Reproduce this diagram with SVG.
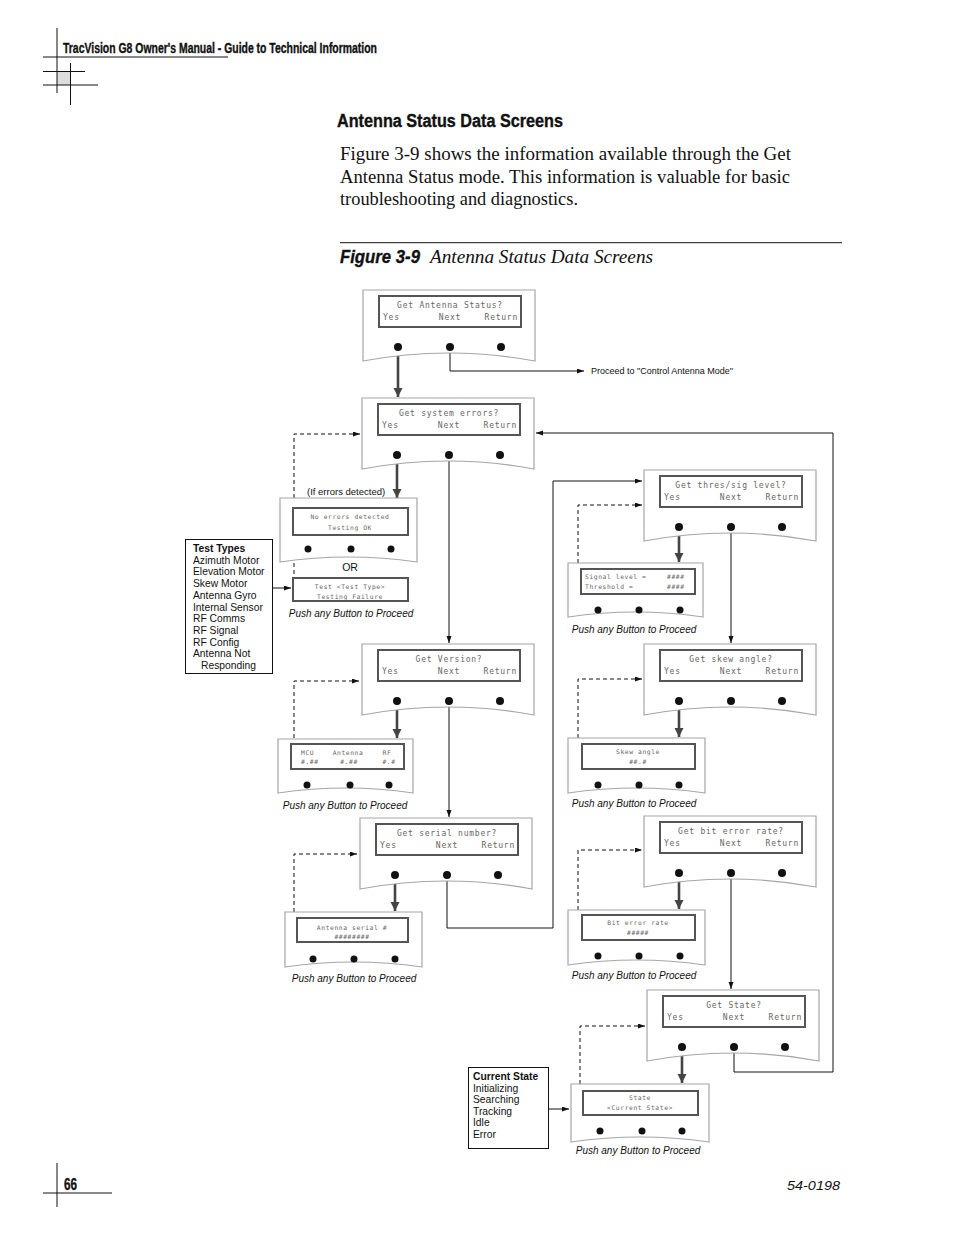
<svg xmlns="http://www.w3.org/2000/svg" width="954" height="1235" viewBox="0 0 954 1235">
<style>
.bg{fill:#fff}
.ln{stroke:#111;stroke-width:1;fill:none}
.outer{fill:#fff;stroke:#a6a6a6;stroke-width:1.2}
.lcd{fill:#fff;stroke:#555;stroke-width:2}
.dot{fill:#111}
.lt{font-family:"DejaVu Sans Mono","Liberation Mono",monospace;font-size:8px;letter-spacing:0.75px;fill:#666}
.st{font-family:"DejaVu Sans Mono","Liberation Mono",monospace;font-size:6.3px;letter-spacing:0.6px;fill:#666}
.mid{text-anchor:middle}
.end{text-anchor:end}
.sans{font-family:"Liberation Sans",Arial,sans-serif;fill:#111}
.push{font-family:"Liberation Sans",Arial,sans-serif;font-size:10px;font-style:italic;fill:#111;text-anchor:middle}
.cond{font-family:"Liberation Sans Narrow","Liberation Sans",Arial,sans-serif;font-weight:bold;fill:#111;stroke:#111;stroke-width:0.35}
.serif{font-family:"Liberation Serif","Times New Roman",serif;fill:#111}
.thick{stroke:#444;stroke-width:2.6;fill:none;marker-end:url(#ah)}
.thin{stroke:#111;stroke-width:1;fill:none;marker-end:url(#as)}
.dash{stroke:#111;stroke-width:1;stroke-dasharray:4 3;fill:none}
.dasha{stroke:#111;stroke-width:1;stroke-dasharray:4 3;fill:none;marker-end:url(#as)}
</style>
<defs>
<marker id="ah" markerUnits="userSpaceOnUse" markerWidth="10" markerHeight="10" refX="9" refY="4.5" orient="auto">
<path d="M0,0 L9,4.5 L0,9 Z" fill="#444"/>
</marker>
<marker id="as" markerUnits="userSpaceOnUse" markerWidth="8" markerHeight="6" refX="7" refY="2.5" orient="auto">
<path d="M0,0 L7,2.5 L0,5 Z" fill="#111"/>
</marker>
</defs>
<rect class="bg" x="0" y="0" width="954" height="1235"/>

<g id="page">
<rect x="57" y="71.5" width="13.5" height="13.5" fill="#ddd"/>
<path class="ln" d="M57,28 V93 M43,57 H228 M43,71.5 H85 M43,85 H98 M70.5,63 V105"/>
<text class="cond" x="63" y="53" font-size="14" textLength="314" lengthAdjust="spacingAndGlyphs">TracVision G8 Owner's Manual - Guide to Technical Information</text>
<text class="cond" x="337" y="127" font-size="17.5" textLength="226" lengthAdjust="spacingAndGlyphs">Antenna Status Data Screens</text>
<text class="serif" x="340" y="160" font-size="18.5" textLength="451" lengthAdjust="spacingAndGlyphs">Figure 3-9 shows the information available through the Get</text>
<text class="serif" x="340" y="182.5" font-size="18.5" textLength="450" lengthAdjust="spacingAndGlyphs">Antenna Status mode. This information is valuable for basic</text>
<text class="serif" x="340" y="205" font-size="18.5" textLength="238" lengthAdjust="spacingAndGlyphs">troubleshooting and diagnostics.</text>
<path class="ln" d="M340,242.7 H842"/>
<text class="cond" x="340" y="263" font-size="18" font-style="italic" textLength="80" lengthAdjust="spacingAndGlyphs">Figure 3-9</text>
<text class="serif" x="430" y="263" font-size="18" font-style="italic" textLength="223" lengthAdjust="spacingAndGlyphs">Antenna Status Data Screens</text>
<path class="ln" d="M57,1163 V1207 M43,1193 H112"/>
<text class="cond" x="64" y="1190" font-size="16" textLength="13" lengthAdjust="spacingAndGlyphs">66</text>
<text class="sans" x="787" y="1190" font-size="13" font-style="italic" textLength="53" lengthAdjust="spacingAndGlyphs">54-0198</text>
</g>

<g id="connectors">
<path class="thick" d="M398,352 V397"/>
<path class="thick" d="M397,460 V498"/>
<path class="thick" d="M397,706 V738"/>
<path class="thick" d="M395,880 V911"/>
<path class="thick" d="M679,532 V562"/>
<path class="thick" d="M679,706 V737"/>
<path class="thick" d="M679,878 V909"/>
<path class="thick" d="M682,1052 V1083"/>
<path class="thin" d="M450,347 V371 H584"/>
<path class="thin" d="M449,455 V643"/>
<path class="thin" d="M449,701 V817"/>
<path class="thin" d="M447,875 V928 H553 V481 H642"/>
<path class="thin" d="M731,527 V643"/>
<path class="thin" d="M731,873 V989"/>
<path class="thin" d="M734,1047 V1072 H833 V433 H536"/>
<path class="thin" d="M272,588 H291"/>
<path class="thin" d="M548,1109 H569"/>
<path class="dasha" d="M294,498 V434 H360"/>
<path class="dash" d="M294,563 V578"/>
<path class="dasha" d="M294,738 V681 H359"/>
<path class="dasha" d="M294,912 V854 H357"/>
<path class="dasha" d="M578,563 V505 H642"/>
<path class="dasha" d="M578,738 V679 H642"/>
<path class="dasha" d="M578,910 V850 H642"/>
<path class="dasha" d="M580,1084 V1026 H645"/>
<text class="sans" x="591" y="374" font-size="9">Proceed to "Control Antenna Mode"</text>
<text class="sans mid" x="350" y="571" font-size="10.5">OR</text>
</g>

<g id="get-antenna-status">
<path class="outer" d="M363,290 H535 V361 Q449,345 363,361 Z"/>
<rect class="lcd" x="379" y="296" width="142" height="31"/>
<text class="lt mid" x="450" y="308">Get Antenna Status?</text>
<text class="lt" x="383" y="320">Yes</text>
<text class="lt mid" x="450" y="320">Next</text>
<text class="lt end" x="518" y="320">Return</text>
<circle class="dot" cx="398" cy="347" r="4"/><circle class="dot" cx="450" cy="347" r="4"/><circle class="dot" cx="501" cy="347" r="4"/>
</g>

<g id="get-system-errors">
<path class="outer" d="M362,398 H534 V469 Q448,453 362,469 Z"/>
<rect class="lcd" x="378" y="404" width="142" height="31"/>
<text class="lt mid" x="449" y="416">Get system errors?</text>
<text class="lt" x="382" y="428">Yes</text>
<text class="lt mid" x="449" y="428">Next</text>
<text class="lt end" x="517" y="428">Return</text>
<circle class="dot" cx="397" cy="455" r="4"/><circle class="dot" cx="449" cy="455" r="4"/><circle class="dot" cx="500" cy="455" r="4"/>
</g>

<g id="no-errors">
<text class="sans" x="307" y="494.5" font-size="9.5">(If errors detected)</text>
<path class="outer" d="M280,498 H417 V562 Q348.5,552 280,562 Z"/>
<rect class="lcd" x="293" y="508" width="115" height="27"/>
<text class="st mid" x="350" y="519">No errors detected</text>
<text class="st mid" x="350" y="530">Testing OK</text>
<circle class="dot" cx="308" cy="549" r="3.5"/><circle class="dot" cx="351" cy="549" r="3.5"/><circle class="dot" cx="391" cy="549" r="3.5"/>
</g>

<g id="test-failure">
<rect class="lcd" x="293" y="578" width="115" height="23"/>
<text class="st mid" x="350" y="588.5">Test &lt;Test Type&gt;</text>
<text class="st mid" x="350" y="598.5">Testing Failure</text>
<text class="push" x="351" y="617">Push any Button to Proceed</text>
</g>

<g id="test-types">
<rect x="185.5" y="539.5" width="87" height="134" fill="#fff" stroke="#111" stroke-width="1"/>
<text class="sans" font-size="10.3">
<tspan x="193" y="552" font-weight="bold">Test Types</tspan>
<tspan x="193" y="563.7">Azimuth Motor</tspan>
<tspan x="193" y="575.4">Elevation Motor</tspan>
<tspan x="193" y="587.1">Skew Motor</tspan>
<tspan x="193" y="598.8">Antenna Gyro</tspan>
<tspan x="193" y="610.5">Internal Sensor</tspan>
<tspan x="193" y="622.2">RF Comms</tspan>
<tspan x="193" y="633.9">RF Signal</tspan>
<tspan x="193" y="645.6">RF Config</tspan>
<tspan x="193" y="657.3">Antenna Not</tspan>
<tspan x="201" y="669">Responding</tspan>
</text>
</g>

<g id="get-version">
<path class="outer" d="M362,644 H534 V715 Q448,699 362,715 Z"/>
<rect class="lcd" x="378" y="650" width="142" height="31"/>
<text class="lt mid" x="449" y="662">Get Version?</text>
<text class="lt" x="382" y="674">Yes</text>
<text class="lt mid" x="449" y="674">Next</text>
<text class="lt end" x="517" y="674">Return</text>
<circle class="dot" cx="397" cy="701" r="4"/><circle class="dot" cx="449" cy="701" r="4"/><circle class="dot" cx="500" cy="701" r="4"/>
</g>

<g id="version-data">
<path class="outer" d="M278,739 H413 V793 Q345.5,783 278,793 Z"/>
<rect class="lcd" x="291" y="744" width="113" height="25"/>
<text class="st" x="301" y="755">MCU</text>
<text class="st mid" x="348" y="755">Antenna</text>
<text class="st mid" x="387" y="755">RF</text>
<text class="st" x="301" y="764">#.##</text>
<text class="st mid" x="349" y="764">#.##</text>
<text class="st mid" x="389" y="764">#.#</text>
<circle class="dot" cx="307" cy="785" r="3.5"/><circle class="dot" cx="350" cy="785" r="3.5"/><circle class="dot" cx="389" cy="785" r="3.5"/>
<text class="push" x="345" y="809">Push any Button to Proceed</text>
</g>

<g id="get-serial-number">
<path class="outer" d="M360,818 H532 V889 Q446,873 360,889 Z"/>
<rect class="lcd" x="376" y="824" width="142" height="31"/>
<text class="lt mid" x="447" y="836">Get serial number?</text>
<text class="lt" x="380" y="848">Yes</text>
<text class="lt mid" x="447" y="848">Next</text>
<text class="lt end" x="515" y="848">Return</text>
<circle class="dot" cx="395" cy="875" r="4"/><circle class="dot" cx="447" cy="875" r="4"/><circle class="dot" cx="498" cy="875" r="4"/>
</g>

<g id="serial-data">
<path class="outer" d="M285,912 H422 V967 Q353.5,957 285,967 Z"/>
<rect class="lcd" x="297" y="918" width="111" height="24"/>
<text class="st mid" x="352" y="929.5">Antenna serial #</text>
<text class="st mid" x="352" y="939">########</text>
<circle class="dot" cx="313" cy="959" r="3.5"/><circle class="dot" cx="354" cy="959" r="3.5"/><circle class="dot" cx="395" cy="959" r="3.5"/>
<text class="push" x="354" y="982">Push any Button to Proceed</text>
</g>

<g id="get-thres-sig-level">
<path class="outer" d="M644,470 H816 V541 Q730,525 644,541 Z"/>
<rect class="lcd" x="660" y="476" width="142" height="31"/>
<text class="lt mid" x="731" y="488">Get thres/sig level?</text>
<text class="lt" x="664" y="500">Yes</text>
<text class="lt mid" x="731" y="500">Next</text>
<text class="lt end" x="799" y="500">Return</text>
<circle class="dot" cx="679" cy="527" r="4"/><circle class="dot" cx="731" cy="527" r="4"/><circle class="dot" cx="782" cy="527" r="4"/>
</g>

<g id="signal-data">
<path class="outer" d="M568,563 H703 V617 Q635.5,607 568,617 Z"/>
<rect class="lcd" x="581" y="569" width="114" height="25"/>
<text class="st" x="585" y="579">Signal level =</text>
<text class="st" x="667" y="579">####</text>
<text class="st" x="585" y="589">Threshold =</text>
<text class="st" x="667" y="589">####</text>
<circle class="dot" cx="598" cy="610" r="3.5"/><circle class="dot" cx="639" cy="610" r="3.5"/><circle class="dot" cx="680" cy="610" r="3.5"/>
<text class="push" x="634" y="633">Push any Button to Proceed</text>
</g>

<g id="get-skew-angle">
<path class="outer" d="M644,644 H816 V715 Q730,699 644,715 Z"/>
<rect class="lcd" x="660" y="650" width="142" height="31"/>
<text class="lt mid" x="731" y="662">Get skew angle?</text>
<text class="lt" x="664" y="674">Yes</text>
<text class="lt mid" x="731" y="674">Next</text>
<text class="lt end" x="799" y="674">Return</text>
<circle class="dot" cx="679" cy="701" r="4"/><circle class="dot" cx="731" cy="701" r="4"/><circle class="dot" cx="782" cy="701" r="4"/>
</g>

<g id="skew-data">
<path class="outer" d="M568,738 H705 V793 Q636.5,783 568,793 Z"/>
<rect class="lcd" x="582" y="744" width="113" height="25"/>
<text class="st mid" x="638" y="753.5">Skew angle</text>
<text class="st mid" x="638" y="763.5">##.#</text>
<circle class="dot" cx="598" cy="785" r="3.5"/><circle class="dot" cx="639" cy="785" r="3.5"/><circle class="dot" cx="679" cy="785" r="3.5"/>
<text class="push" x="634" y="807">Push any Button to Proceed</text>
</g>

<g id="get-bit-error-rate">
<path class="outer" d="M644,816 H816 V887 Q730,871 644,887 Z"/>
<rect class="lcd" x="660" y="822" width="142" height="31"/>
<text class="lt mid" x="731" y="834">Get bit error rate?</text>
<text class="lt" x="664" y="846">Yes</text>
<text class="lt mid" x="731" y="846">Next</text>
<text class="lt end" x="799" y="846">Return</text>
<circle class="dot" cx="679" cy="873" r="4"/><circle class="dot" cx="731" cy="873" r="4"/><circle class="dot" cx="782" cy="873" r="4"/>
</g>

<g id="bit-error-data">
<path class="outer" d="M568,910 H705 V965 Q636.5,955 568,965 Z"/>
<rect class="lcd" x="582" y="915" width="113" height="25"/>
<text class="st mid" x="638" y="925">Bit error rate</text>
<text class="st mid" x="638" y="934.5">#####</text>
<circle class="dot" cx="598" cy="956" r="3.5"/><circle class="dot" cx="639" cy="956" r="3.5"/><circle class="dot" cx="680" cy="956" r="3.5"/>
<text class="push" x="634" y="979">Push any Button to Proceed</text>
</g>

<g id="get-state">
<path class="outer" d="M647,990 H819 V1061 Q733,1045 647,1061 Z"/>
<rect class="lcd" x="663" y="996" width="142" height="31"/>
<text class="lt mid" x="734" y="1008">Get State?</text>
<text class="lt" x="667" y="1020">Yes</text>
<text class="lt mid" x="734" y="1020">Next</text>
<text class="lt end" x="802" y="1020">Return</text>
<circle class="dot" cx="682" cy="1047" r="4"/><circle class="dot" cx="734" cy="1047" r="4"/><circle class="dot" cx="785" cy="1047" r="4"/>
</g>

<g id="state-data">
<path class="outer" d="M571,1084 H709 V1142 Q640,1132 571,1142 Z"/>
<rect class="lcd" x="583" y="1091" width="115" height="24"/>
<text class="st mid" x="640" y="1100">State</text>
<text class="st mid" x="640" y="1109.5">&lt;Current State&gt;</text>
<circle class="dot" cx="600" cy="1131" r="3.5"/><circle class="dot" cx="642" cy="1131" r="3.5"/><circle class="dot" cx="682" cy="1131" r="3.5"/>
<text class="push" x="638" y="1154">Push any Button to Proceed</text>
</g>

<g id="current-state">
<rect x="468.5" y="1067.5" width="80" height="81" fill="#fff" stroke="#111" stroke-width="1"/>
<text class="sans" font-size="10.3">
<tspan x="473" y="1080" font-weight="bold">Current State</tspan>
<tspan x="473" y="1091.6">Initializing</tspan>
<tspan x="473" y="1103.2">Searching</tspan>
<tspan x="473" y="1114.8">Tracking</tspan>
<tspan x="473" y="1126.4">Idle</tspan>
<tspan x="473" y="1138">Error</tspan>
</text>
</g>
</svg>
